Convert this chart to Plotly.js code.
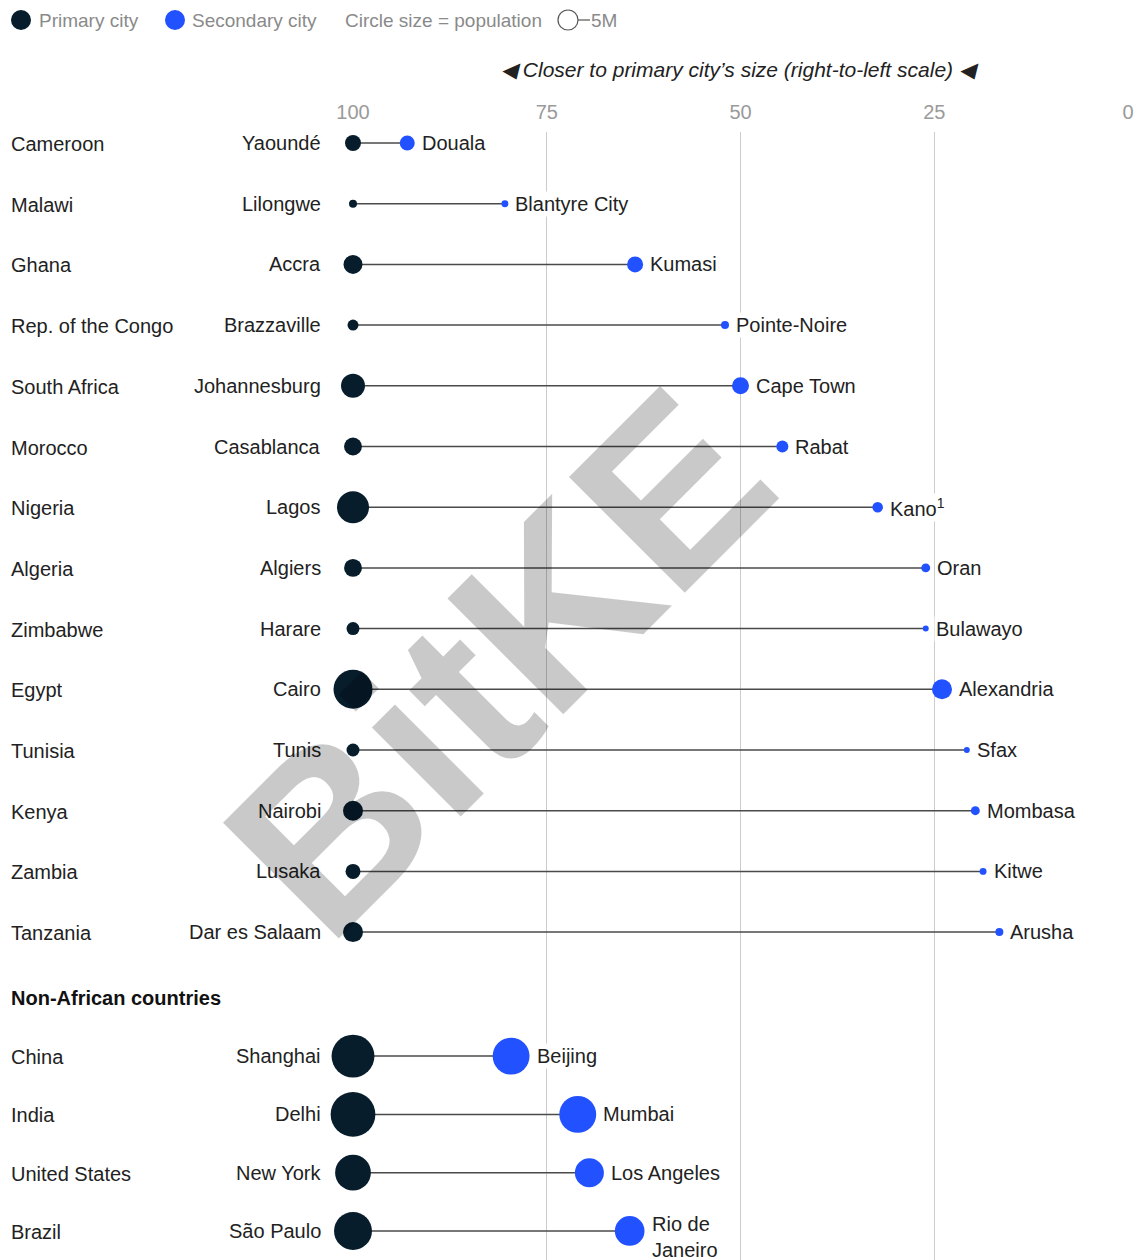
<!DOCTYPE html>
<html><head><meta charset="utf-8">
<script src="https://cdn.plot.ly/plotly-3.0.1.min.js"></script>
<style>html,body{margin:0;padding:0;background:#fff}</style>
</head><body><div id="chart" style="width:1148px;height:1260px"></div>
<script>
// ---------- DATA ----------
const africanCountries = ['Cameroon','Malawi','Ghana','Rep. of the Congo','South Africa','Morocco','Nigeria','Algeria','Zimbabwe','Egypt','Tunisia','Kenya','Zambia','Tanzania'];
const africanPrimaryCity = ['Yaoundé','Lilongwe','Accra','Brazzaville','Johannesburg','Casablanca','Lagos','Algiers','Harare','Cairo','Tunis','Nairobi','Lusaka','Dar es Salaam'];
const africanSecondaryCity = ['Douala','Blantyre City','Kumasi','Pointe-Noire','Cape Town','Rabat','Kano<sup>1</sup>','Oran','Bulawayo','Alexandria','Sfax','Mombasa','Kitwe','Arusha'];
const africanSecondaryShare = [93, 80.4, 63.6, 52, 50, 44.6, 32.3, 26.1, 26.1, 24, 20.8, 19.7, 18.7, 16.6];
const africanPrimaryPop = [3.2, 0.8, 4.5, 1.5, 7.2, 4.0, 12.8, 4.0, 2.1, 19, 2.1, 5.0, 2.8, 5.0];
const africanSecondaryPop = [2.8, 0.6, 3.2, 0.8, 3.6, 1.8, 1.4, 1.0, 0.45, 5.0, 0.45, 1.0, 0.6, 0.8];

const otherCountries = ['China','India','United States','Brazil'];
const otherPrimaryCity = ['Shanghai','Delhi','New York','São Paulo'];
const otherSecondaryCity = ['Beijing','Mumbai','Los Angeles','Rio de<br>Janeiro'];
const otherSecondaryShare = [79.6, 71, 69.5, 64.3];
const otherPrimaryPop = [23, 25, 16, 18];
const otherSecondaryPop = [17, 17, 10.5, 11];

const PRIMARY_SHARE = 100;
const xTickVals = [100, 75, 50, 25, 0];
const legendRefPop = 5; // "5M"

// ---------- LAYOUT HELPERS ----------
const W = 1148, H = 1260;
const ML = 353, MR = 20, MT = 132, MB = 0;
const plotW = W - ML - MR, plotH = H - MT - MB;
const ROW_PX = 60.7, FIRST_ROW_PX = 143;
const SECTION_GAP = 2.043, OTHER_STEP = 0.96;
const pxX = px => (px - ML) / plotW;
const pxY = py => (H - MB - py) / plotH;
const POP_PER_PX2 = 0.0125;                 // area scale: diameter = sqrt(pop / k)
const diam = p => Math.sqrt(p / POP_PER_PX2);

const DARK = '#071d2c', BLUE = '#2251ff';
const FONT = 'Liberation Sans, Arial, sans-serif';
const TXT = '#222222';

const countries = africanCountries.concat(otherCountries);
const primCity = africanPrimaryCity.concat(otherPrimaryCity);
const secCity = africanSecondaryCity.concat(otherSecondaryCity);
const secShare = africanSecondaryShare.concat(otherSecondaryShare);
const primPop = africanPrimaryPop.concat(otherPrimaryPop);
const secPop = africanSecondaryPop.concat(otherSecondaryPop);
const nA = africanCountries.length;
const rows = countries.map((c, i) => i < nA ? i : (nA - 1) + SECTION_GAP + (i - nA) * OTHER_STEP);

// connector lines
const lx = [], ly = [];
rows.forEach((r, i) => { lx.push(PRIMARY_SHARE, secShare[i], null); ly.push(r, r, null); });

const traces = [
  {type:'scatter', mode:'lines', x:lx, y:ly, line:{color:'#4a4a4a', width:1.5}, hoverinfo:'skip', showlegend:false, cliponaxis:false},
  {type:'scatter', mode:'markers', x:rows.map(() => PRIMARY_SHARE), y:rows,
   marker:{color:DARK, opacity:1, size:primPop.map(diam), sizemode:'diameter', line:{width:0}}, showlegend:false, cliponaxis:false},
  {type:'scatter', mode:'markers', x:secShare, y:rows,
   marker:{color:BLUE, opacity:1, size:secPop.map(diam), sizemode:'diameter', line:{width:0}}, showlegend:false, cliponaxis:false}
];

const ann = [];
const shapes = [];
const lblFont = {family:FONT, size:20, color:TXT};
rows.forEach((r, i) => {
  ann.push({xref:'paper', x:pxX(9), xanchor:'left', yref:'y', y:r, yanchor:'middle', yshift:-1, text:countries[i], showarrow:false, font:lblFont});
  ann.push({xref:'x', x:PRIMARY_SHARE, xshift:-30, xanchor:'right', yref:'y', y:r, yanchor:'middle', text:primCity[i], showarrow:false, font:lblFont});
  const multi = secCity[i].indexOf('<br>') >= 0;
  ann.push({xref:'x', x:secShare[i], xshift:diam(secPop[i]) / 2 + 5, xanchor:'left', yref:'y', y:r,
    yanchor: multi ? 'top' : 'middle', yshift: multi ? 20 : 0,
    text:secCity[i], showarrow:false, font:lblFont, bgcolor:'#ffffff', align:'left'});
});
// section headers
ann.push({xref:'paper', x:pxX(9), xanchor:'left', yref:'y', y:rows[0] - 0.71, yanchor:'middle', text:'<b>African countries</b>', showarrow:false, font:{family:FONT, size:20, color:'#111'}});
ann.push({xref:'paper', x:pxX(9), xanchor:'left', yref:'y', y:rows[nA] - 0.955, yanchor:'middle', text:'<b>Non-African countries</b>', showarrow:false, font:{family:FONT, size:20, color:'#111'}});
// axis direction caption
ann.push({xref:'paper', x:pxX(740), xanchor:'center', yref:'paper', y:pxY(70), yanchor:'middle',
  text:'<i>◀ Closer to primary city’s size (right-to-left scale) ◀</i>', showarrow:false, font:{family:FONT, size:21, color:TXT}});

// legend
const legFont = {family:FONT, size:19, color:'#8a8a8a'};
const legY = pxY(20);
const dot = (cx, color, fill, r) => ({type:'circle', xref:'paper', yref:'paper', xsizemode:'pixel', ysizemode:'pixel',
  xanchor:pxX(cx), yanchor:legY, x0:-r, x1:r, y0:-r, y1:r, fillcolor:fill, line:{color:color, width: fill === 'rgba(0,0,0,0)' ? 1.2 : 0}});
shapes.push(dot(21, DARK, DARK, 10));
shapes.push(dot(175, BLUE, BLUE, 10));
const refR = diam(legendRefPop) / 2;
shapes.push(dot(568, '#555', 'rgba(0,0,0,0)', refR));
shapes.push({type:'line', xref:'paper', yref:'paper', x0:pxX(568 + refR), x1:pxX(590), y0:legY, y1:legY, line:{color:'#555', width:1.2}});
const legItems = [[37, 'Primary city'], [190, 'Secondary city'], [343, 'Circle size = population'], [589, '5M']];
legItems.forEach(([px, t]) => ann.push({xref:'paper', x:pxX(px), xanchor:'left', yref:'paper', y:legY, yanchor:'middle', text:t, showarrow:false, font:legFont}));

// watermark
ann.push({xref:'paper', yref:'paper', x:pxX(498), y:pxY(662), xanchor:'center', yanchor:'middle', text:'<b>BitKE</b>',
  textangle:-45, showarrow:false, font:{family:'Liberation Sans, Arial, sans-serif', size:238, color:'rgba(0,0,0,0.21)'}});

const layout = {
  width:W, height:H,
  margin:{l:ML, r:MR, t:MT, b:MB, pad:0},
  paper_bgcolor:'#fff', plot_bgcolor:'#fff',
  showlegend:false,
  xaxis:{range:[100, 0], side:'top', tickvals:xTickVals, ticktext:xTickVals.map(String),
    showgrid:true, gridcolor:'#cccccc', gridwidth:1, zeroline:false, showline:false, ticks:'', ticklabelstandoff:8,
    tickfont:{family:FONT, size:20, color:'#9a9a9a'}, fixedrange:true},
  yaxis:{range:[(H - MB - FIRST_ROW_PX) / ROW_PX, (MT - FIRST_ROW_PX) / ROW_PX], showgrid:false, zeroline:false,
    showticklabels:false, showline:false, ticks:'', fixedrange:true},
  annotations:ann, shapes:shapes,
  font:{family:FONT}
};
Plotly.newPlot('chart', traces, layout, {displayModeBar:false, staticPlot:true});
</script></body></html>
